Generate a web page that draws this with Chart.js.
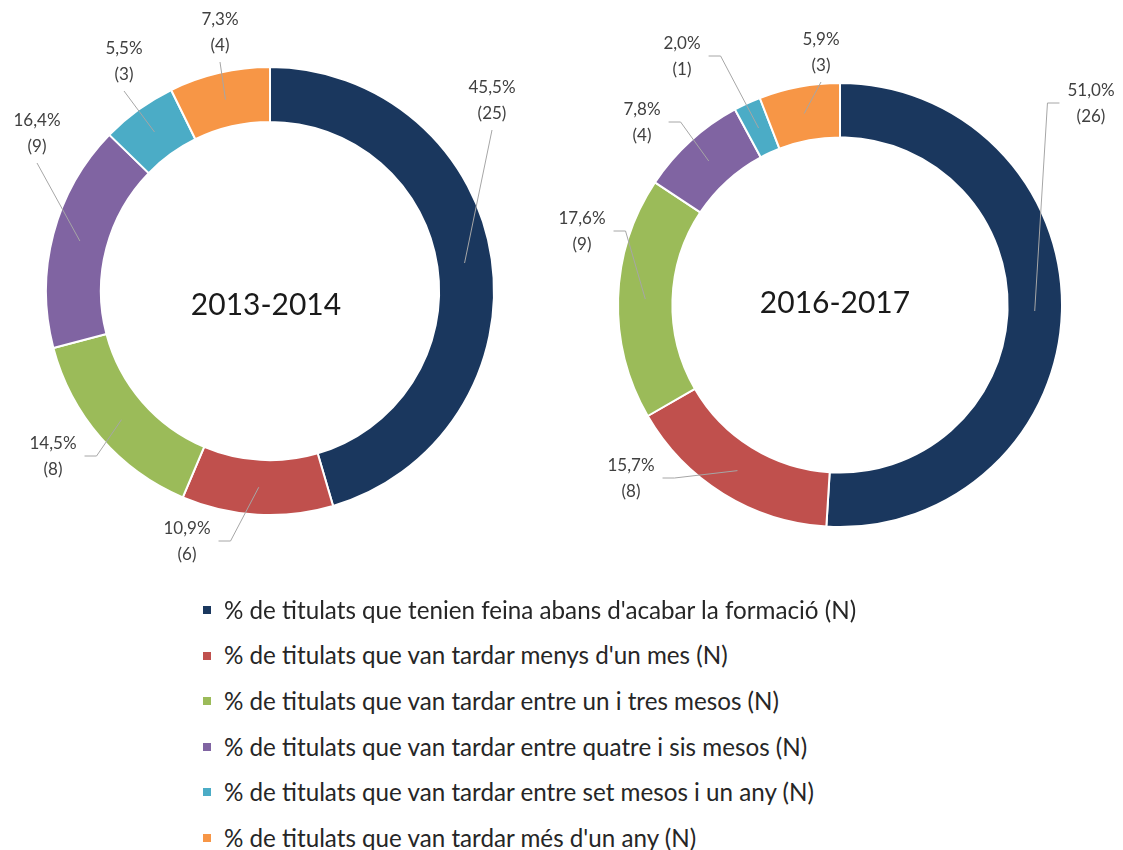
<!DOCTYPE html>
<html>
<head>
<meta charset="utf-8">
<script src="https://cdn.jsdelivr.net/npm/chart.js@4.4.0/dist/chart.umd.min.js"></script>
<style>
  html, body { margin: 0; padding: 0; background: #fff; width: 1123px; height: 850px; overflow: hidden; }
  canvas { position: absolute; top: 0; }
  #c2013 { left: 0; }
  #c2016 { left: 540px; }
  .row { position: absolute; left: 203px; white-space: nowrap; font-family: Lato, sans-serif; color: #262626; line-height: 1; }
  .sw { position: absolute; left: 0; width: 8px; height: 8px; }
  .txt { position: absolute; left: 21px; }
</style>
</head>
<body>
<canvas id="c2013" width="540" height="582"></canvas>
<canvas id="c2016" width="600" height="610"></canvas>
<div id="legend"></div>
<script>
const categories = [
    "% de titulats que tenien feina abans d'acabar la formació (N)",
    "% de titulats que van tardar menys d'un mes (N)",
    "% de titulats que van tardar entre un i tres mesos (N)",
    "% de titulats que van tardar entre quatre i sis mesos (N)",
    "% de titulats que van tardar entre set mesos i un any (N)",
    "% de titulats que van tardar més d'un any (N)"
];

const values2013 = [25, 6, 8, 9, 3, 4];
const values2016 = [26, 8, 9, 4, 1, 3];

const colors = ["#1A375E", "#C0504D", "#9BBB59", "#8064A2", "#4BACC6", "#F79646"];

// where each slice label sits, relative to the ring centre, and which side the leader joins
const labelSpots2013 = [[222, -190, "b"], [-83, 251, "r"], [-217, 166, "r"], [-233, -157, "b"], [-146, -229, "b"], [-50, -258, "b"]];
const labelSpots2016 = [[251, -201, "l"], [-209, 174, "r"], [-258, -73, "r"], [-198, -182, "r"], [-158, -248, "r"], [-19, -252, "b"]];

function sliceLabels(spots, title, shift) {
    return {
        id: "sliceLabels",
        afterDatasetsDraw(chart) {
            const ctx = chart.ctx;
            const meta = chart.getDatasetMeta(0);
            const values = chart.data.datasets[0].data;
            const total = values.reduce((a, b) => a + b, 0);
            ctx.save();
            ctx.font = "17px Lato";
            ctx.textAlign = "center";
            ctx.textBaseline = "middle";
            let cx = 0, cy = 0;
            meta.data.forEach((arc, i) => {
                const p = arc.getProps(["x", "y", "startAngle", "endAngle", "innerRadius", "outerRadius"], true);
                cx = p.x; cy = p.y;
                const mid = (p.startAngle + p.endAngle) / 2;
                const r = (p.innerRadius + p.outerRadius) / 2;
                const ax = p.x + Math.cos(mid) * r;
                const ay = p.y + Math.sin(mid) * r;
                const [dx, dy, side] = spots[i];
                const lx = p.x + dx, ly = p.y + dy;
                const pct = (values[i] / total * 100).toFixed(1).replace(".", ",") + "%";
                const cnt = "(" + values[i] + ")";
                const half = Math.max(ctx.measureText(pct).width, ctx.measureText(cnt).width) / 2;

                ctx.strokeStyle = "#a6a6a6";
                ctx.lineWidth = 1;
                ctx.beginPath();
                ctx.moveTo(ax, ay);
                if (side === "b") {
                    ctx.lineTo(lx, ly + 29);
                } else {
                    const s = side === "r" ? 1 : -1;
                    const ex = lx + s * (half + 8);
                    ctx.lineTo(ex + s * 12, ly - 1);
                    ctx.lineTo(ex, ly - 1);
                }
                ctx.stroke();

                ctx.fillStyle = "#404040";
                ctx.fillText(pct, lx, ly - 13);
                ctx.fillText(cnt, lx, ly + 13);
            });
            ctx.font = "30px Lato";
            ctx.fillStyle = "#1a1a1a";
            ctx.fillText(title, cx + shift[0], cy + shift[1]);
            ctx.restore();
        }
    };
}

function makeDoughnut(id, values, spots, title, shift, radius) {
    return new Chart(document.getElementById(id), {
        type: "doughnut",
        data: {
            labels: categories,
            datasets: [{
                data: values,
                backgroundColor: colors,
                borderColor: "#ffffff",
                borderWidth: 2,
                hoverOffset: 0,
                radius: radius,
                cutout: "75.5%"
            }]
        },
        options: {
            responsive: false,
            animation: false,
            events: [],
            plugins: {
                legend: { display: false },
                tooltip: { enabled: false }
            }
        },
        plugins: [sliceLabels(spots, title, shift)]
    });
}

makeDoughnut("c2013", values2013, labelSpots2013, "2013-2014", [-4, 14], 224);
makeDoughnut("c2016", values2016, labelSpots2016, "2016-2017", [-5, -2], 222);

// legend, sized so the longest line spans the same width as the original
const measure = document.createElement("canvas").getContext("2d");
measure.font = "20px Lato";
const legendSize = 20 * 633 / measure.measureText(categories[0]).width;
const legend = document.getElementById("legend");
categories.forEach((name, i) => {
    const row = document.createElement("div");
    row.className = "row";
    const yc = 610 + i * 45.6;
    row.style.top = (yc - legendSize / 2) + "px";
    row.style.height = legendSize + "px";
    row.style.fontSize = legendSize + "px";
    const sw = document.createElement("span");
    sw.className = "sw";
    sw.style.background = colors[i];
    sw.style.top = (legendSize / 2 - 4) + "px";
    const txt = document.createElement("span");
    txt.className = "txt";
    txt.textContent = name;
    row.appendChild(sw);
    row.appendChild(txt);
    legend.appendChild(row);
});
</script>
</body>
</html>
